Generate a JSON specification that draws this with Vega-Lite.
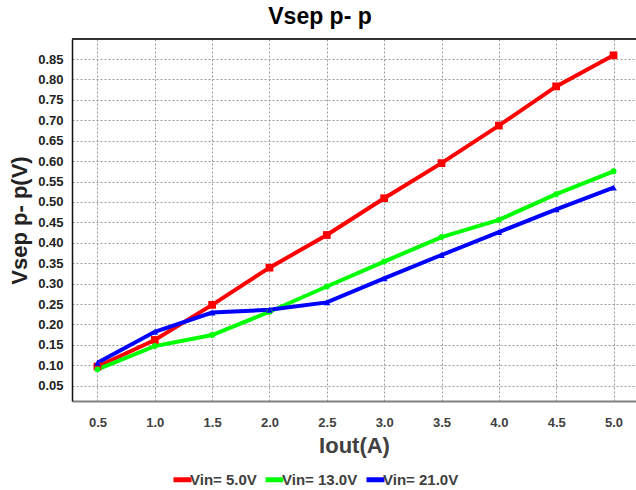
{
  "$schema": "https://vega.github.io/schema/vega-lite/v6.json",
  "autosize": "none",
  "padding": {"left": 72, "top": 39, "right": 0, "bottom": 89},
  "width": 564,
  "height": 362,
  "background": "white",
  "title": {"text": "Vsep p- p", "font": "Liberation Sans", "fontSize": 23, "fontWeight": "bold", "color": "#000", "anchor": "middle", "frame": "group", "dx": -34, "offset": 9},
  "config": {
    "view": {"stroke": null},
    "font": "Liberation Sans"
  },
  "data": {"values": [
    {"iout": 0.5, "v": 0.097, "s": "Vin= 5.0V"},
    {"iout": 1.0, "v": 0.162, "s": "Vin= 5.0V"},
    {"iout": 1.5, "v": 0.248, "s": "Vin= 5.0V"},
    {"iout": 2.0, "v": 0.339, "s": "Vin= 5.0V"},
    {"iout": 2.5, "v": 0.419, "s": "Vin= 5.0V"},
    {"iout": 3.0, "v": 0.509, "s": "Vin= 5.0V"},
    {"iout": 3.5, "v": 0.595, "s": "Vin= 5.0V"},
    {"iout": 4.0, "v": 0.687, "s": "Vin= 5.0V"},
    {"iout": 4.5, "v": 0.783, "s": "Vin= 5.0V"},
    {"iout": 5.0, "v": 0.859, "s": "Vin= 5.0V"},
    {"iout": 0.5, "v": 0.090, "s": "Vin= 13.0V"},
    {"iout": 1.0, "v": 0.147, "s": "Vin= 13.0V"},
    {"iout": 1.5, "v": 0.174, "s": "Vin= 13.0V"},
    {"iout": 2.0, "v": 0.231, "s": "Vin= 13.0V"},
    {"iout": 2.5, "v": 0.293, "s": "Vin= 13.0V"},
    {"iout": 3.0, "v": 0.354, "s": "Vin= 13.0V"},
    {"iout": 3.5, "v": 0.414, "s": "Vin= 13.0V"},
    {"iout": 4.0, "v": 0.456, "s": "Vin= 13.0V"},
    {"iout": 4.5, "v": 0.519, "s": "Vin= 13.0V"},
    {"iout": 5.0, "v": 0.575, "s": "Vin= 13.0V"},
    {"iout": 0.5, "v": 0.106, "s": "Vin= 21.0V"},
    {"iout": 1.0, "v": 0.182, "s": "Vin= 21.0V"},
    {"iout": 1.5, "v": 0.229, "s": "Vin= 21.0V"},
    {"iout": 2.0, "v": 0.236, "s": "Vin= 21.0V"},
    {"iout": 2.5, "v": 0.254, "s": "Vin= 21.0V"},
    {"iout": 3.0, "v": 0.313, "s": "Vin= 21.0V"},
    {"iout": 3.5, "v": 0.370, "s": "Vin= 21.0V"},
    {"iout": 4.0, "v": 0.426, "s": "Vin= 21.0V"},
    {"iout": 4.5, "v": 0.482, "s": "Vin= 21.0V"},
    {"iout": 5.0, "v": 0.535, "s": "Vin= 21.0V"}
  ]},
  "encoding": {
    "x": {"field": "iout", "type": "quantitative",
      "scale": {"domain": [0.278, 5.196], "nice": false, "zero": false},
      "axis": {"title": "Iout(A)", "values": [0.5,1.0,1.5,2.0,2.5,3.0,3.5,4.0,4.5,5.0], "format": ".1f",
        "ticks": false, "labelPadding": 15, "labelFont": "Liberation Sans", "labelFontSize": 13, "labelFontWeight": "bold", "labelColor": "#404040",
        "titleFont": "Liberation Sans", "titleFontSize": 22, "titleFontWeight": "bold", "titleColor": "#404040", "titlePadding": 6,
        "domainColor": "#808080", "domainWidth": 2,
        "grid": true, "gridColor": "#999999", "gridDash": [2, 2], "gridWidth": 1}},
    "y": {"field": "v", "type": "quantitative",
      "scale": {"domain": [0.0125, 0.899], "nice": false, "zero": false},
      "axis": {"title": "Vsep p- p(V)", "values": [0.05,0.1,0.15,0.2,0.25,0.3,0.35,0.4,0.45,0.5,0.55,0.6,0.65,0.7,0.75,0.8,0.85], "format": ".2f",
        "ticks": false, "labelPadding": 9, "labelFont": "Liberation Sans", "labelFontSize": 13, "labelFontWeight": "bold", "labelColor": "#222222",
        "titleFont": "Liberation Sans", "titleFontSize": 22, "titleFontWeight": "bold", "titleColor": "#222222", "titlePadding": 6,
        "domainColor": "#111111", "domainWidth": 1.5,
        "grid": true, "gridColor": "#999999", "gridDash": [2, 2], "gridWidth": 1}},
    "color": {"field": "s", "type": "nominal",
      "scale": {"domain": ["Vin= 5.0V", "Vin= 13.0V", "Vin= 21.0V"], "range": ["#ff0000", "#00ff00", "#0000ff"]},
      "legend": {"title": null, "orient": "none", "direction": "horizontal", "legendX": 99, "legendY": 429,
        "symbolType": "stroke", "symbolStrokeWidth": 5, "symbolSize": 324, "columnPadding": -2, "labelOffset": -4,
        "labelFont": "Liberation Sans", "labelFontSize": 15, "labelFontWeight": "bold", "labelColor": "#404040"}}
  },
  "layer": [
    {"mark": {"type": "rule", "color": "#333333", "strokeWidth": 2}, "encoding": {"y": {"datum": 0.899}, "x": {"datum": 0.278}, "x2": {"datum": 5.196}, "color": {"value": "#333333"}}},
    {"mark": {"type": "line", "strokeWidth": 4}, "encoding": {"detail": {"field": "s"}}},
    {"mark": {"type": "point", "filled": true, "opacity": 1},
      "encoding": {
        "shape": {"condition": [{"test": "datum.s === 'Vin= 5.0V'", "value": "square"}, {"test": "datum.s === 'Vin= 13.0V'", "value": "circle"}], "value": "triangle-up"},
        "size": {"condition": [{"test": "datum.s === 'Vin= 5.0V'", "value": 60}, {"test": "datum.s === 'Vin= 13.0V'", "value": 35}], "value": 45}
      }}
  ]
}
